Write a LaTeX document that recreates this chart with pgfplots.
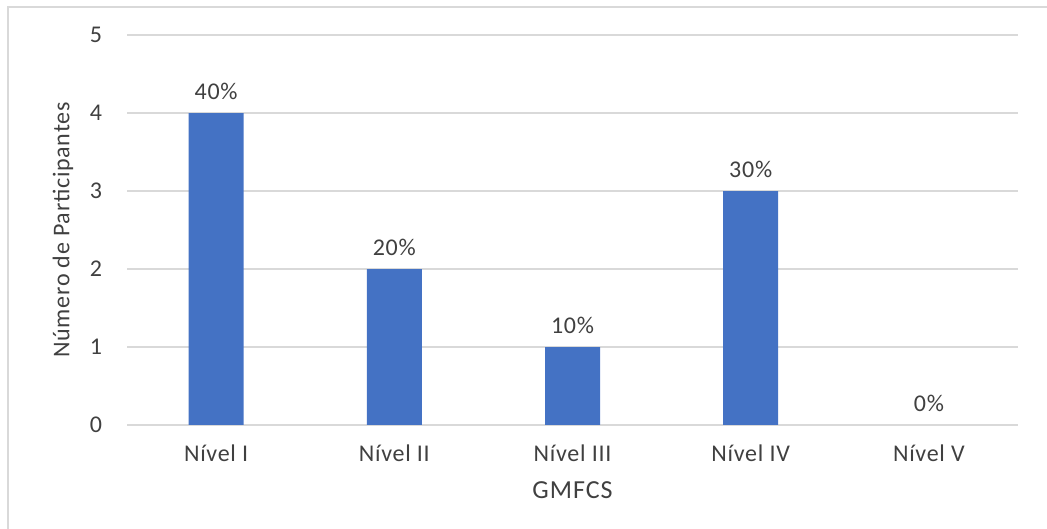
\documentclass[border=0pt]{standalone}
\usepackage{fontspec}
\setmainfont{Carlito}[LetterSpace=3]
\newfontfamily\titlefont{Carlito}[LetterSpace=4]
\usepackage{pgfplots}
\pgfplotsset{compat=1.18}

\definecolor{barblue}{RGB}{68,114,196}
\definecolor{gridgray}{RGB}{217,217,217}
\definecolor{framegray}{RGB}{217,217,217}
\definecolor{labelgray}{RGB}{64,64,64}
\definecolor{titlegray}{RGB}{64,64,64}

\begin{document}
\begin{tikzpicture}
\path[use as bounding box] (0,0) rectangle (523.5bp,264.5bp);
% chart frame
\draw[framegray, line width=1.2bp] (4bp,0) -- (4bp,261bp) -- (523.5bp,261bp);
\begin{axis}[
  at={(63.5bp,52bp)}, anchor=south west,
  scale only axis, width=445.5bp, height=195bp,
  xmin=-0.5, xmax=4.5, ymin=0, ymax=5,
  ytick={0,1,2,3,4,5},
  xtick={0,1,2,3,4},
  xticklabels={Nível I, Nível II, Nível III, Nível IV, Nível V},
  axis line style={draw=none},
  major tick style={draw=none},
  ymajorgrids,
  grid style={gridgray, line width=0.9bp},
  /pgf/number format/assume math mode=true,
  tick label style={font=\fontsize{12bp}{14bp}\selectfont, text=labelgray},
  yticklabel style={xshift=-9bp},
  xticklabel style={yshift=-2bp},
  ybar, bar width=27.5bp,
  nodes near coords,
  point meta=explicit symbolic,
  nodes near coords style={font=\fontsize{12bp}{14bp}\selectfont, text=labelgray, yshift=3bp},
  xlabel={GMFCS},
  ylabel={Número de Participantes},
  xlabel style={at={(axis description cs:0.5,0)}, anchor=center, yshift=-32.5bp,
    font=\titlefont\fontsize{13bp}{15bp}\selectfont, text=titlegray},
  ylabel style={at={(axis description cs:0,0.5)}, anchor=center, yshift=32bp,
    font=\fontsize{12bp}{14bp}\selectfont, text=titlegray},
]
\addplot[fill=barblue, draw=none] coordinates {
  (0,4) [40\%]
  (1,2) [20\%]
  (2,1) [10\%]
  (3,3) [30\%]
  (4,0) [0\%]
};
\end{axis}
\end{tikzpicture}
\end{document}
